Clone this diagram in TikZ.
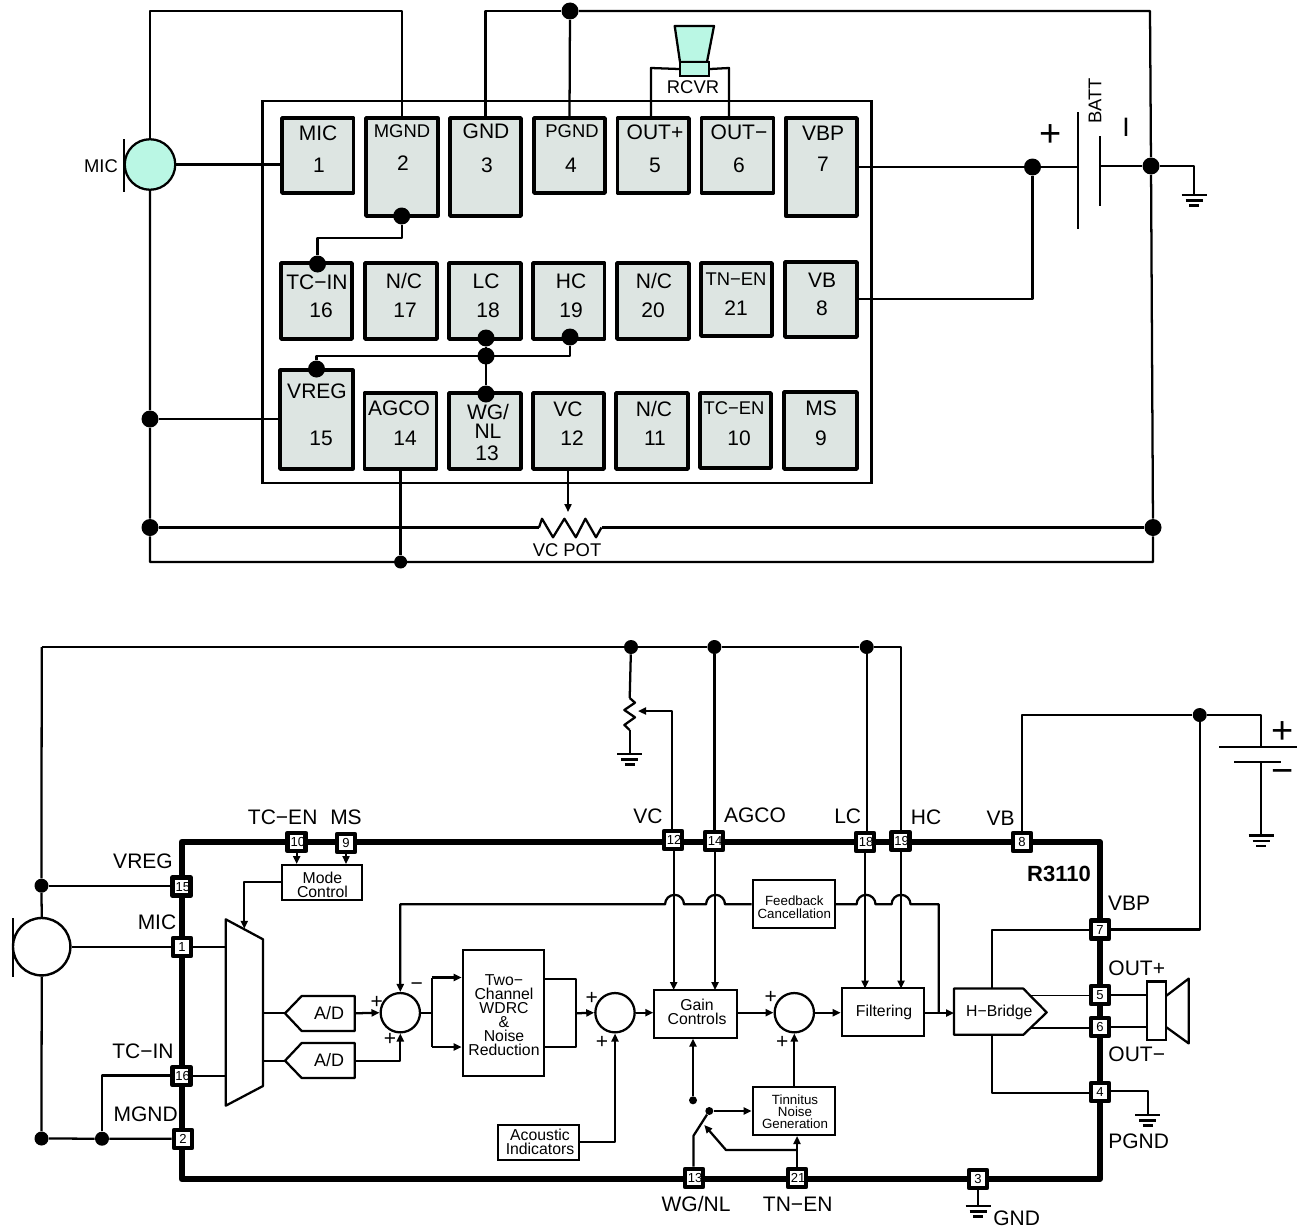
\documentclass[tikz,border=0pt]{standalone}
\usepackage{fontspec}
\setmainfont{Liberation Sans}
\usetikzlibrary{arrows.meta,backgrounds}
\definecolor{pinfill}{HTML}{DDE5E2}
\definecolor{micfill}{HTML}{BAF7E4}
\tikzset{
  wire/.style={line width=1.7pt,line join=round},
  thin wire/.style={line width=1.4pt,line join=round},
  arr/.style={wire,-{Triangle[length=6pt,width=5.3pt]}},
  pinbox/.style={draw,line width=2.7pt,fill=pinfill,inner sep=0pt,line join=round},
  icpin/.style={draw,line width=3.6pt,fill=white,inner sep=0pt,minimum size=13.5pt,line join=round,fs},
  blockbox/.style={draw,line width=1.5pt,fill=white,inner sep=0pt},
  dot/.style={circle,fill=black,inner sep=0pt,minimum size=12.75pt},
  dotb/.style={circle,fill=black,inner sep=0pt,minimum size=10.5pt},
  dots/.style={circle,fill=black,inner sep=0pt,minimum size=6pt},
  summer/.style={circle,draw,line width=1.7pt,fill=white,inner sep=0pt,minimum size=29.5pt},
  txt/.style={inner sep=0pt,font=\fontsize{15.75}{17}\selectfont},
  txs/.style={inner sep=0pt,font=\fontsize{13.8}{15}\selectfont},
  fs/.style={font=\fontsize{9.8}{12}\selectfont},
  lab12/.style={inner sep=0pt,align=center,font=\fontsize{11.85}{10.5}\selectfont},
  lab10/.style={inner sep=0pt,align=center,font=\fontsize{10}{10}\selectfont},
  lab10t/.style={inner sep=0pt,align=center,font=\fontsize{10}{9}\selectfont},
  big/.style={inner sep=0pt,font=\fontsize{28.5}{30}\selectfont},
}
\newcommand\pbox[5]{\node[pinbox,minimum width={(#4-#2)*0.75pt},minimum height={(#5-#3)*0.75pt}] (#1) at ({(#2+#4)/2},{(#3+#5)/2}) {};}
\newcommand\lb[4][txt]{\node[#1] (#2) at (#3) {#4};}
\newcommand\gnd[2]{\draw[wire] (#1-12.5,#2) -- (#1+12.5,#2) (#1-8.5,#2+5.5) -- (#1+8.5,#2+5.5) (#1-4.8,#2+10.5) -- (#1+4.8,#2+10.5);}
\newcommand\ipin[4]{\node[icpin] (#1) at (#2,#3) {#4};}
\newcommand\ipinw[4]{\node[icpin] (#1) at (#2,#3) {\makebox[13.5pt]{\kern1.6pt #4}};}
\begin{document}
\begin{tikzpicture}[x=0.75pt,y=-0.75pt]
\useasboundingbox (0,0) rectangle (1302,1231);

%=============== TOP: pinout =================
\node[draw,line width=1.7pt,inner sep=0pt,minimum width={609*0.75pt},minimum height={382.5*0.75pt}] (chip) at (567,292) {};
\pbox{p1}{282}{118}{353.5}{193}
\pbox{p2}{366}{118}{437.7}{216}
\pbox{p3}{450}{118}{521}{216}
\pbox{p4}{534}{118}{605}{193}
\pbox{p5}{617.5}{118}{689}{193}
\pbox{p6}{701.6}{118}{773.5}{193}
\pbox{p7}{785.7}{118}{857}{216}
\pbox{p16}{281}{263}{352}{339}
\pbox{p17}{365}{263}{437}{339}
\pbox{p18}{449}{263}{521}{339}
\pbox{p19}{533}{263}{604.5}{339}
\pbox{p20}{617}{263}{689}{339}
\pbox{p21}{701}{263}{772}{336}
\pbox{p8}{785}{262}{857}{337}
\pbox{p15}{280}{370}{352.7}{469}
\pbox{p14}{364.6}{393}{436.5}{469}
\pbox{p13}{449}{393}{521}{469}
\pbox{p12}{533}{393}{604}{469}
\pbox{p11}{616}{393}{688}{469}
\pbox{p10}{700}{393}{771}{468}
\pbox{p9}{784}{392}{857}{469}

\lb{l1a}{318,133}{MIC}\lb{l1b}{319,165}{1}
\lb[txs]{l2a}{402,131}{MGND}\lb{l2b}{403,163}{2}
\lb{l3a}{486,131}{GND}\lb{l3b}{487,165}{3}
\lb[txs]{l4a}{572,131}{PGND}\lb{l4b}{571,165}{4}
\lb{l5a}{655,132}{OUT+}\lb{l5b}{655,165}{5}
\lb{l6a}{739,132}{OUT−}\lb{l6b}{739,165}{6}
\lb{l7a}{823,133}{VBP}\lb{l7b}{823,164}{7}
\lb{l16a}{317,282}{TC−IN}\lb{l16b}{321,310}{16}
\lb{l17a}{404,281}{N/C}\lb{l17b}{405,310}{17}
\lb{l18a}{486,281}{LC}\lb{l18b}{488,310}{18}
\lb{l19a}{571,281}{HC}\lb{l19b}{571,310}{19}
\lb{l20a}{654,281}{N/C}\lb{l20b}{653,310}{20}
\lb[txs]{l21a}{736,279}{TN−EN}\lb{l21b}{736,308}{21}
\lb{l8a}{822,280}{VB}\lb{l8b}{822,308}{8}
\lb{l15a}{317,391}{VREG}\lb{l15b}{321,438}{15}
\lb{l14a}{399,408}{AGCO}\lb{l14b}{405,438}{14}
\lb{l13a}{488,412}{WG/}\lb{l13c}{488,431}{NL}\lb{l13b}{487,453}{13}
\lb{l12a}{568,409}{VC}\lb{l12b}{572,438}{12}
\lb{l11a}{654,409}{N/C}\lb{l11b}{655,438}{11}
\lb[txs]{l10a}{734,408}{TC−EN}\lb{l10b}{739,438}{10}
\lb{l9a}{821,408}{MS}\lb{l9b}{821,438}{9}

% microphone
\node[circle,draw,line width=1.7pt,fill=micfill,inner sep=0pt,minimum size={50.5*0.75pt}] (mic) at (150,164.5) {};
\coordinate (micb1) at (124,139);
\coordinate (micb2) at (124,192);
\draw[wire] (micb1) -- (micb2);
\lb[txs]{micl}{101,166}{MIC}

% receiver
\draw[wire,fill=micfill] (674.7,26) -- (714,26) -- (707,62) -- (680,62) -- cycle;
\node[draw,line width=1.7pt,fill=micfill,inner sep=0pt,minimum width={29*0.75pt},minimum height={13.7*0.75pt}] (coil) at (694.5,69) {};
\lb[txs]{rcvr}{693,87}{RCVR}

% battery
\coordinate (bat1a) at (1078,112);\coordinate (bat1b) at (1078,229);
\coordinate (bat2a) at (1100,136);\coordinate (bat2b) at (1100,206);
\draw[wire] (bat1a) -- (bat1b);
\draw[wire] (bat2a) -- (bat2b);
\lb[big]{plus}{1051,135.5}{+}
\node[txs,rotate=90] (batt) at (1095,101) {BATT};
\node[inner sep=0pt,font=\fontsize{20}{22}\selectfont] (minus) at (1126,127) {I};

% junctions
\node[dot] (d570) at (570,11) {};
\node[dot] (d2) at (401.7,216) {};
\node[dot] (d16) at (317.5,264) {};
\node[dot] (d18) at (486,338) {};
\node[dot] (d19) at (570,337) {};
\node[dot] (dmid) at (486,356) {};
\node[dot] (d13) at (486,394) {};
\node[dot] (d15) at (316.5,369) {};
\node[dot] (d150a) at (150,419) {};
\node[dot] (d150b) at (150,527.5) {};
\node[dot] (d1032) at (1032.5,167) {};
\node[dot] (d1151) at (1151,166) {};
\node[dot] (d1153) at (1153,527.5) {};
\node[dotb,minimum size=9.75pt] (d400) at (400.6,562) {};
\lb[txs]{vcpot}{567,550}{VC POT}

\coordinate (tl) at (150,11);
\coordinate (tr) at (1150,11);
\coordinate (bl) at (150,562);
\coordinate (br) at (1153,562);
\coordinate (w5) at (651,68);
\coordinate (w6) at (729,68);
\coordinate (w2a) at (401.7,238);
\coordinate (w2b) at (317.5,238);
\coordinate (w15) at (316.5,356);
\coordinate (w19) at (570,356);
\coordinate (potl) at (539,527.5);
\coordinate (potr) at (601.5,527.5);
\coordinate (pota) at (568,469);
\coordinate (potb) at (568,512);
\coordinate (gt) at (1194,166);
\coordinate (gb) at (1194,195);
\coordinate (w8) at (1032.5,299);
\gnd{1194}{195}

\begin{scope}[on background layer]
\draw[wire] (mic.north) -- (tl) -| (p2.north);
\draw[wire] (p3.north) |- (d570);
\draw[wire] (d570) -- (p4.north);
\draw[wire] (d570) -- (tr) -- (d1151);
\draw[wire] (d1151) -- (d1153) -- (br) -- (bl) -- (d150b) -- (d150a) -- (mic.south);
\draw[wire] (mic.east) -- (mic.east -| p1.west);
\draw[wire] (d2) -- (w2a) -- (w2b) -- (d16);
\draw[wire] (w5 |- p5.north) -- (w5) -- (coil.west);
\draw[wire] (w6 |- p6.north) -- (w6) -- (coil.east);
\draw[wire] (d15) -- (w15) -- (w19) -- (d19);
\draw[wire] (d18) -- (d13);
\draw[wire] (d150a) -- (d150a -| p15.west);
\draw[wire] (d150b) -- (potl);
\draw[wire] (potl) -- (542,518.7) -- (553,537.3) -- (564.4,518.7) -- (575.8,537.3) -- (585.4,518.7) -- (596,537.3) -- (potr);
\draw[wire] (potr) -- (d1153);
\draw[arr] (pota) -- (potb);
\draw[wire] (d400 |- p14.south) -- (d400);
\draw[wire] (p7.east) -- (d1032);
\draw[wire] (d1032) -- (w8) -- (w8 -| p8.east);
\draw[wire] (d1032) -- (d1032 -| bat1a);
\draw[wire] (d1151 -| bat2a) -- (d1151);
\draw[wire] (d1151) -- (gt) -- (gb);
\end{scope}

%=============== BOTTOM: block diagram =================
\node[draw,line width=4.5pt,inner sep=0pt,line join=round,minimum width={918.3*0.75pt},minimum height={337*0.75pt}] (ic) at (640.8,1010.5) {};
\ipinw{b15}{181.7}{886.7}{15}
\ipin{b1}{182}{947}{1}
\ipinw{b16}{181.5}{1076}{16}
\ipin{b2}{183}{1139}{2}
\ipinw{b10}{296.7}{842}{10}
\ipin{b9}{346}{843}{9}
\ipinw{b12}{673}{840}{12}
\ipinw{b14}{714}{841}{14}
\ipinw{b18}{865}{842}{18}
\ipinw{b19}{900.5}{841}{19}
\ipin{b8}{1022}{842}{8}
\ipin{b7}{1100}{929.6}{7}
\ipin{b5}{1100}{995}{5}
\ipin{b6}{1100}{1027}{6}
\ipin{b4}{1100}{1092}{4}
\ipin{b3}{978}{1179}{3}
\ipinw{b13}{694}{1178}{13}
\ipinw{b21}{797}{1178}{21}

\lb{tvreg}{143,861.7}{VREG}
\lb{tmic}{157,922}{MIC}
\lb{ttcin}{143,1051}{TC−IN}
\lb{tmgnd}{145.7,1114}{MGND}
\lb{ttcen}{282.7,817}{TC−EN}
\lb{tms}{346,817}{MS}
\lb{tvc}{648,816}{VC}
\lb{tagco}{755,815.6}{AGCO}
\lb{tlc}{847.7,816}{LC}
\lb{thc}{926,817}{HC}
\lb{tvb}{1000.7,818}{VB}
\node[inner sep=0pt,font=\fontsize{16.5}{18}\selectfont\bfseries] (tr3110) at (1059,873.8) {R3110};
\lb{tvbp}{1129,902.8}{VBP}
\lb{toutp}{1136.7,968}{OUT+}
\lb{toutm}{1136.7,1054}{OUT−}
\lb{tpgnd}{1138.7,1141.7}{PGND}
\lb{tgnd}{1016.7,1218}{GND}
\lb{twg}{696,1204}{WG/NL}
\lb{ttn}{797.7,1204}{TN−EN}

% microphone
\node[circle,draw,line width=1.8pt,fill=white,inner sep=0pt,minimum size={57.4*0.75pt}] (mic2) at (41.7,946.7) {};
\coordinate (m2b1) at (12.7,918);
\coordinate (m2b2) at (12.7,977);
\draw[wire] (m2b1) -- (m2b2);

% mux
\draw[wire] (225.7,919.3) -- (263,939.3) -- (263,1086) -- (225.7,1105.7) -- cycle;
\coordinate (mi1) at (225.7,947);
\coordinate (mi2) at (225.7,1076);
\coordinate (mo1) at (263,1013.3);
\coordinate (mo2) at (263,1060.7);
\coordinate (mt) at (244.3,928.8);

% blocks
\node[blockbox,minimum width={80*0.75pt},minimum height={35*0.75pt}] (mode) at (322,882.5) {};
\node[lab12] (modet) at (322.5,884.7) {Mode\\Control};
\node[blockbox,minimum width={82*0.75pt},minimum height={48*0.75pt}] (fb) at (793.7,904.3) {};
\node[lab10] (fbt) at (794.3,907) {Feedback\\Cancellation};
\node[blockbox,minimum width={81.6*0.75pt},minimum height={126*0.75pt}] (wdrc) at (503.5,1013.3) {};
\node[lab12] (wdrct) at (504,1014.8) {Two−\\Channel\\WDRC\\\&\\Noise\\Reduction};
\node[blockbox,minimum width={82.4*0.75pt},minimum height={47.7*0.75pt}] (gain) at (695.5,1013.8) {};
\node[lab12] (gaint) at (697,1012) {Gain\\Controls};
\node[blockbox,minimum width={82.3*0.75pt},minimum height={47.7*0.75pt}] (filt) at (882.8,1012.2) {};
\node[lab12] (filtt) at (884,1012.5) {Filtering};
\node[blockbox,minimum width={81.6*0.75pt},minimum height={35*0.75pt}] (acou) at (538.5,1142.5) {};
\node[lab12] (acout) at (540,1141.5) {Acoustic\\Indicators};
\node[blockbox,minimum width={82.3*0.75pt},minimum height={48*0.75pt}] (tinn) at (793.8,1111) {};
\node[lab10t] (tinnt) at (795,1112) {Tinnitus\\Noise\\Generation};

% A/D
\draw[wire] (285,1013.3) -- (301.7,996) -- (354.7,996) -- (354.7,1031) -- (301.7,1031) -- cycle;
\draw[wire] (285,1060.7) -- (301.7,1043) -- (354.7,1043) -- (354.7,1078) -- (301.7,1078) -- cycle;
\node[inner sep=0pt,font=\fontsize{13.5}{15}\selectfont] (ad1) at (329,1013) {A/D};
\node[inner sep=0pt,font=\fontsize{13.5}{15}\selectfont] (ad2) at (329,1060) {A/D};
\coordinate (ad1t) at (285,1013.3);
\coordinate (ad2t) at (285,1060.7);
\coordinate (ad1r) at (354.7,1013.3);
\coordinate (ad2r) at (354.7,1060.7);

% summers
\node[summer] (s1) at (400.3,1012.7) {};
\node[summer] (s2) at (615,1012.7) {};
\node[summer] (s3) at (794.3,1012.7) {};
\lb{p1a}{376.7,1002}{+}\lb{p1b}{390,1039}{+}\lb{p1c}{416.7,987}{−}
\lb{p2a}{591.7,998}{+}\lb{p2b}{602,1042}{+}
\lb{p3a}{770.7,997}{+}\lb{p3b}{782.3,1042}{+}

% H-bridge
\draw[wire] (954,988.6) -- (1023.3,988.6) -- (1046.7,1012.4) -- (1023.3,1034.8) -- (954,1034.8) -- cycle;
\node[lab12] (hb) at (999.3,1012) {H−Bridge};
\coordinate (hbl) at (954,1013);
\coordinate (hbt) at (992.3,988.6);
\coordinate (hbb) at (992.3,1034.8);
\coordinate (hb5) at (1030.6,995.5);
\coordinate (hb6) at (1030.6,1028);

% speaker
\node[draw,line width=1.8pt,fill=white,inner sep=0pt,minimum width={18.7*0.75pt},minimum height={58.3*0.75pt}] (spk) at (1156.6,1010.8) {};
\draw[wire] (1166,996) -- (1188.7,978.6) -- (1188.7,1043.4) -- (1166,1027);

% source battery
\coordinate (bb1a) at (1219,747.2);\coordinate (bb1b) at (1296.7,747.2);
\coordinate (bb2a) at (1234,761.7);\coordinate (bb2b) at (1281.3,761.7);
\coordinate (bbt) at (1261,747.2);\coordinate (bbm) at (1261,761.7);
\coordinate (bbg) at (1261,835.5);
\draw[wire] (bb1a) -- (bb1b);
\draw[wire] (bb2a) -- (bb2b);
\lb[big]{bplus}{1283,733}{+}
\lb[big]{bminus}{1283,776}{−}
\gnd{1261}{835.5}

% dots
\node[dotb] (k15) at (41.5,885.7) {};
\node[dotb] (k2) at (41.5,1138.5) {};
\node[dotb] (k16) at (102,1138.7) {};
\node[dotb] (kvc) at (631,647) {};
\node[dotb] (kag) at (714.4,647) {};
\node[dotb] (klc) at (866.7,647) {};
\node[dotb] (kb) at (1199.7,715) {};
\node[dots] (sw0) at (693,1100.3) {};
\node[dots] (sw1) at (709.3,1111) {};

% pot and grounds
\coordinate (ptop) at (629.7,698);
\coordinate (pbot) at (629.7,730);
\coordinate (pgnd) at (629.7,754);
\coordinate (pwa) at (672,711);
\coordinate (pwb) at (638,711);
\gnd{629.7}{754}
\draw[wire] (ptop) -- (635,702.7) -- (624.3,710) -- (635,717.3) -- (624.3,725) -- (pbot);
\coordinate (g4a) at (1147.7,1090.7);
\coordinate (g4b) at (1147.7,1115);
\gnd{1147.7}{1115}
\coordinate (g3) at (978,1205.9);
\gnd{978}{1205.9}

\coordinate (tl2) at (41.7,647);
\coordinate (tr2) at (901,647);
\coordinate (w16) at (102,1075.5);
\coordinate (mc) at (244.3,882);
\coordinate (fbl) at (400.3,904.3);
\coordinate (fbr) at (938.7,904.3);
\coordinate (fbd) at (938.7,1013);
\coordinate (h12r) at (684,904.3);
\coordinate (h14r) at (725,904.3);
\coordinate (h18l) at (856.6,904.3);
\coordinate (h19l) at (891.6,904.3);
\coordinate (vw1) at (431.7,1012.7);
\coordinate (vw2) at (431.7,977.5);
\coordinate (vw3) at (431.7,1047);
\coordinate (ow1) at (576,979.3);
\coordinate (ow2) at (576,1047);
\coordinate (ow3) at (576,1013.3);
\coordinate (w7) at (992.3,930.3);
\coordinate (w4) at (992.3,1092.8);
\coordinate (r7) at (1199.7,929.6);
\coordinate (lb8) at (1022,715);
\coordinate (rb) at (1261,715);
\coordinate (sw13) at (693.5,1135.7);
\coordinate (ac1) at (615,1142.3);
\coordinate (tn1) at (796.7,1150);
\coordinate (tn2) at (726,1150);
\coordinate (tn3) at (704.3,1125);

\begin{scope}[on background layer]
\draw[wire] (tl2) -- (k15) -- (mic2.north);
\draw[wire] (mic2.south) -- (k2);
\draw[wire] (tl2) -- (kvc) -- (kag) -- (klc) -- (tr2) -- (b19.north -| tr2);
\draw[wire] (k15) -- (k15 -| b15.west);
\draw[wire] (mic2.east) -- (mic2.east -| b1.west);
\draw[wire] (k2) -- (k16) -- (k16 -| b2.west);
\draw[wire] (k16) -- (w16) -- (w16 -| b16.west);
\draw[thin wire] (b1.east) -- (mi1);
\draw[thin wire] (b16.east) -- (mi2);
\draw[arr] (b10.south) -- (mode.north -| b10);
\draw[arr] (b9.south) -- (mode.north -| b9);
\draw[arr] (mode.west |- mc) -- (mc) -- (mt);
\draw[wire] (mo1) -- (ad1t);
\draw[wire] (mo2) -- (ad2t);
\draw[arr] (ad1r) -- (s1.west);
\draw[arr] (ad2r) -| (s1.south);
\draw[arr] (fb.west) -- (h14r) arc[start angle=0,end angle=180,radius=7.1pt] -- (h12r) arc[start angle=0,end angle=180,radius=7.1pt] -- (fbl) -- (s1.north);
\draw[wire] (fb.east) -- (h18l) arc[start angle=180,end angle=0,radius=7.1pt] -- (h19l) arc[start angle=180,end angle=0,radius=7.1pt] -- (fbr) -- (fbd);
\draw[wire] (s1.east) -- (vw1);
\draw[wire] (vw2) -- (vw3);
\draw[arr] (vw2) -- (vw2 -| wdrc.west);
\draw[arr] (vw3) -- (vw3 -| wdrc.west);
\draw[wire] (ow1 -| wdrc.east) -- (ow1) -- (ow2) -- (ow2 -| wdrc.east);
\draw[arr] (ow3) -- (s2.west);
\draw[arr] (s2.east) -- (s2.east -| gain.west);
\draw[arr] (gain.east |- s3) -- (s3.west);
\draw[arr] (s3.east) -- (s3.east -| filt.west);
\draw[arr] (filt.east |- hbl) -- (hbl);
\draw[wire] (hbt) -- (w7) -- (w7 -| b7.west);
\draw[wire] (hbb) -- (w4) -- (w4 -| b4.west);
\draw[thin wire] (hb5) -- (hb5 -| b5.west);
\draw[thin wire] (hb6) -- (hb6 -| b6.west);
\draw[wire] (b5.east) -- (b5.east -| spk.west);
\draw[wire] (b6.east) -- (b6.east -| spk.west);
\draw[wire] (b7.east) -- (r7) -- (kb);
\draw[wire] (b8.north) -- (lb8) -- (kb) -- (rb) -- (bbt);
\draw[wire] (bbm) -- (bbg);
\draw[wire] (kvc) -- (ptop);
\draw[wire] (pbot) -- (pgnd);
\draw[wire] (kag) -- (b14.north -| kag);
\draw[wire] (klc) -- (b18.north -| klc);
\draw[arr] (pwa |- b12.north) -- (pwa) -- (pwb);
\draw[arr] (b12.south -| 673.7,0) -- (673.7,990);
\draw[arr] (b14.south -| 715,0) -- (715,990);
\draw[arr] (b18.south -| 865,0) -- (865,988.5);
\draw[arr] (b19.south -| 901,0) -- (901,988.5);
\draw[wire] (b4.east |- g4a) -- (g4a) -- (g4b);
\draw[wire] (b3.south) -- (g3);
\draw[arr] (acou.east |- ac1) -- (ac1) -- (s2.south);
\draw[arr] (sw0) -- (sw0 |- gain.south);
\draw[wire] (b13.north -| sw13) -- (sw13) -- (sw1);
\draw[arr] (sw1) -- (sw1 -| tinn.west);
\draw[arr] (tinn.north -| s3) -- (s3.south);
\draw[arr] (b21.north) -- (tinn.south -| b21);
\draw[arr] (tn1) -- (tn2) -- (tn3);
\end{scope}
\end{tikzpicture}
\end{document}
